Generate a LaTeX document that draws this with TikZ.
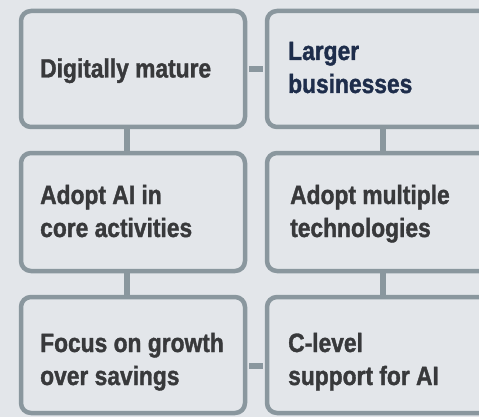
\documentclass[tikz,border=0pt]{standalone}
\usepackage{fontspec}
\setmainfont[FakeStretch=0.86,FakeBold=1.3]{Liberation Sans}
\definecolor{bgc}{HTML}{E3E6EA}
\definecolor{linec}{HTML}{8A979E}
\definecolor{txtc}{HTML}{38393B}
\definecolor{navyc}{HTML}{1E2D4B}
\begin{document}
\begin{tikzpicture}[x=1pt,y=-1pt,
  boxl/.style={draw=linec,line width=4.5pt,rounded corners=10pt,fill=bgc,
    minimum width=224pt,minimum height=116pt,inner sep=0pt},
  boxr/.style={boxl,minimum width=253pt},
  lbl/.style={anchor=base west,inner sep=0pt,text=txtc,
    font=\bfseries\fontsize{26.5}{30}\selectfont},
  link/.style={draw=linec,line width=6.5pt}]
\useasboundingbox (0,0) rectangle (479,417);
\fill[bgc] (0,0) rectangle (479,417);
\clip (0,0) rectangle (479,417);
\node[boxl] (b1) at (133,69) {};
\node[boxr] (b2) at (393.5,69) {};
\node[boxl,minimum height=118pt] (b3) at (133,212) {};
\node[boxr,minimum height=118pt] (b4) at (393.5,212) {};
\node[boxl] (b5) at (133,355) {};
\node[boxr] (b6) at (393.5,355) {};
\node[lbl] (t1) at (40,77.5) {Digitally mature};
\node[lbl,text=navyc] (t2a) at (288,60) {Larger};
\node[lbl,text=navyc] (t2b) at (288,93) {businesses};
\node[lbl] (t3a) at (40,204) {Adopt AI in};
\node[lbl] (t3b) at (40,237) {core activities};
\node[lbl] (t4a) at (290,204) {Adopt multiple};
\node[lbl] (t4b) at (290,237) {technologies};
\node[lbl] (t5a) at (40,352) {Focus on growth};
\node[lbl] (t5b) at (40,385) {over savings};
\node[lbl] (t6a) at (288,352) {C-level};
\node[lbl] (t6b) at (288,385) {support for AI};
\draw[link] ([xshift=2pt]b1.east) -- ([xshift=-2pt]b2.west);
\draw[link] ([xshift=-6pt,yshift=2pt]b1.south) -- ([xshift=-6pt,yshift=-2pt]b3.north);
\draw[link] ([xshift=-10.5pt,yshift=2pt]b2.south) -- ([xshift=-10.5pt,yshift=-2pt]b4.north);
\draw[link] ([xshift=-6pt,yshift=2pt]b3.south) -- ([xshift=-6pt,yshift=-2pt]b5.north);
\draw[link] ([xshift=-10.5pt,yshift=2pt]b4.south) -- ([xshift=-10.5pt,yshift=-2pt]b6.north);
\draw[link] ([xshift=2pt,yshift=-11pt]b5.east) -- ([xshift=-2pt,yshift=-11pt]b6.west);
\end{tikzpicture}
\end{document}
